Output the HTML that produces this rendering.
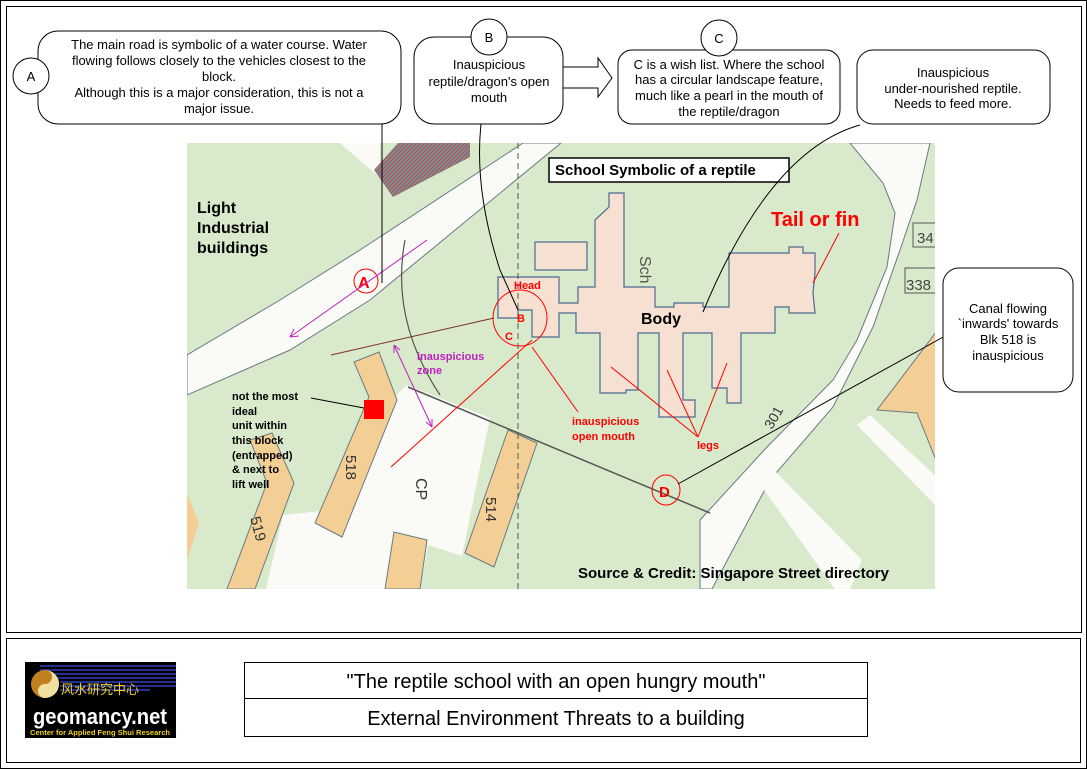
<!DOCTYPE html>
<html><head><meta charset="utf-8"><style>
html,body{margin:0;padding:0;background:#fff}
svg{display:block}
text{font-family:"Liberation Sans",Arial,sans-serif}
</style></head><body>
<svg width="1087" height="769" viewBox="0 0 1087 769" xmlns="http://www.w3.org/2000/svg">
<rect x="0.5" y="0.5" width="1086" height="768" fill="#fff" stroke="#000"/>
<rect x="6.5" y="6.5" width="1075" height="626" fill="none" stroke="#000"/>
<rect x="6.5" y="638.5" width="1074" height="124" fill="none" stroke="#000"/>

<defs><clipPath id="mc"><rect x="187" y="143" width="748" height="446"/></clipPath>
<pattern id="hatch" width="4" height="4" patternUnits="userSpaceOnUse"><rect width="4" height="4" fill="#7a8aa0"/><path d="M0 4L4 0" stroke="#c05030" stroke-width="1"/></pattern></defs>
<g clip-path="url(#mc)">
<rect x="187" y="143" width="748" height="446" fill="#d8eacb"/>
<polygon points="187,355 280,300 360,250 523,143 561,143 370,300 290,350 187,395" fill="#fafaf6" stroke="#6a7a80" stroke-width="1"/>
<polygon points="340,143 380,143 380,178" fill="#fafaf6"/>
<polygon points="374,170 398,143 470,143 470,157 393,197" fill="url(#hatch)"/>
<polygon points="850,143 883,183 895,213 887,267 857,340 833,380 767,447 700,520 700,589 712,589 770,480 833,407 873,327 900,250 917,200 930,143" fill="#fafaf6" stroke="#6a7a80" stroke-width="1"/>
<polygon points="857,425 870,415 940,480 940,510" fill="#fafaf6"/>
<polygon points="757,480 772,468 862,560 850,589 835,589" fill="#fafaf6"/>
<polygon points="877,410 940,327 940,470 917,413" fill="#f3cf96" stroke="#6a7a80"/>
<rect x="913" y="223" width="27" height="24" fill="#d8eacb" stroke="#555"/>
<rect x="905" y="268" width="35" height="25" fill="#d8eacb" stroke="#555"/>
<text x="917" y="243" font-size="15" fill="#444">34</text>
<text x="906" y="290" font-size="15" fill="#444">338</text>
<polygon points="407,385 490,418 462,556 428,545 420,589 266,589 283,515 330,510 370,420" fill="#fafaf6"/>
<polygon points="465,553 508,430 537,443 494,567" fill="#f3cf96" stroke="#6a7a80"/>
<polygon points="394,532 427,540 420,589 385,589" fill="#f3cf96" stroke="#6a7a80"/>
<polygon points="354,362 379,352 397,400 342,537 315,523 369,397" fill="#f3cf96" stroke="#6a7a80"/>
<polygon points="250,440 272,433 294,483 255,589 227,589 267,483" fill="#f3cf96" stroke="#6a7a80"/>
<polygon points="187,493 199,523 187,560" fill="#f3cf96"/>
<line x1="408" y1="387" x2="710" y2="513" stroke="#555" stroke-width="1.5"/>
<path d="M405,240 Q390,320 440,395" fill="none" stroke="#555" stroke-width="1.2"/>
<polygon points="498,277 559,277 559,303 578,303 578,287 595,287 595,220 609,207 609,193 624,193 624,287 655,287 655,307 674,307 674,303 703,303 703,307 729,307 729,253 789,253 789,247 803,247 803,253 815,253 815,273 813,293 815,313 789,313 789,307 775,307 775,333 741,333 741,403 727,403 727,388 712,388 712,333 683,333 683,400 695,400 695,417 659,417 659,333 638,333 638,390 626,390 626,393 600,393 600,333 576,333 576,313 559,313 559,337 532,337 532,310 518,310 518,318 498,318" fill="#f6e0d2" stroke="#4a6a90" stroke-width="1.2"/>
<rect x="535" y="242" width="52" height="28" fill="#f6e0d2" stroke="#4a6a90" stroke-width="1.2"/>
<line x1="518" y1="143" x2="518" y2="589" stroke="#555" stroke-dasharray="6,4"/>
<text transform="translate(346,455) rotate(90)" font-size="15" fill="#333">518</text>
<text transform="translate(416,478) rotate(90)" font-size="16" fill="#333">CP</text>
<text transform="translate(486,497) rotate(90)" font-size="15" fill="#333">514</text>
<text transform="translate(250,518) rotate(75)" font-size="15" fill="#333">519</text>
<text transform="translate(640,256) rotate(90)" font-size="16" fill="#555">Sch</text>
<text transform="translate(772,430) rotate(-60)" font-size="14" fill="#333">301</text>
</g>

<rect x="549" y="158" width="240" height="24" fill="#fff" stroke="#000" stroke-width="1.5"/>
<text x="555" y="175" font-size="15" font-weight="bold">School Symbolic of a reptile</text>
<text x="197" y="213" font-size="16" font-weight="bold">Light</text>
<text x="197" y="233" font-size="16" font-weight="bold">Industrial</text>
<text x="197" y="253" font-size="16" font-weight="bold">buildings</text>
<text x="771" y="226" font-size="20" font-weight="bold" fill="#f00">Tail or fin</text>
<text x="641" y="324" font-size="16" font-weight="bold">Body</text>
<text x="514" y="289" font-size="11" font-weight="bold" fill="#f00">Head</text>
<text x="517" y="322" font-size="11" font-weight="bold" fill="#f00">B</text>
<text x="505" y="340" font-size="11" font-weight="bold" fill="#f00">C</text>
<text x="417" y="360" font-size="11" font-weight="bold" fill="#c020c0">inauspicious</text>
<text x="417" y="374" font-size="11" font-weight="bold" fill="#c020c0">zone</text>
<text x="572" y="425" font-size="11" font-weight="bold" fill="#f00">inauspicious</text>
<text x="572" y="440" font-size="11" font-weight="bold" fill="#f00">open mouth</text>
<text x="697" y="449" font-size="11" font-weight="bold" fill="#f00">legs</text>
<g font-size="11" font-weight="bold">
<text x="232" y="400">not the most</text>
<text x="232" y="415">ideal</text>
<text x="232" y="429">unit within</text>
<text x="232" y="444">this block</text>
<text x="232" y="459">(entrapped)</text>
<text x="232" y="473">&amp; next to</text>
<text x="232" y="488">lift well</text>
</g>
<text x="578" y="578" font-size="15" font-weight="bold">Source &amp; Credit: Singapore Street directory</text>
<rect x="364" y="400" width="20" height="19" fill="#f00"/>
<line x1="311" y1="398" x2="364" y2="408" stroke="#000"/>

<g fill="none" stroke="#f00" stroke-width="1">
<ellipse cx="366" cy="281" rx="12" ry="12"/>
<ellipse cx="520" cy="318" rx="27" ry="28"/>
<ellipse cx="666" cy="490" rx="14" ry="15"/>
<line x1="532" y1="340" x2="391" y2="467"/>
<line x1="532" y1="347" x2="578" y2="412"/>
<line x1="698" y1="437" x2="611" y2="367"/>
<line x1="698" y1="437" x2="667" y2="370"/>
<line x1="698" y1="437" x2="727" y2="363"/>
<line x1="839" y1="233" x2="813" y2="283"/>
</g>
<text x="358" y="288" font-size="16" font-weight="bold" fill="#f00">A</text>
<text x="659" y="497" font-size="15" font-weight="bold" fill="#f00">D</text>
<line x1="494" y1="318" x2="331" y2="355" stroke="#803020"/>
<g stroke="#c020c0" fill="none">
<line x1="427" y1="240" x2="290" y2="337"/><path d="M290,337 l4,-8 M290,337 l9,-1"/>
<line x1="394" y1="345" x2="432" y2="427"/><path d="M394,345 l0,8 M394,345 l6,5 M432,427 l0,-8 M432,427 l-6,-5"/>
</g>

<g fill="none" stroke="#000" stroke-width="1">
<line x1="382" y1="124" x2="382" y2="283"/>
<path d="M481,124 Q474,190 500,270 L518,310"/>
<path d="M860,125 Q770,150 703,312"/>
<line x1="945" y1="336" x2="678" y2="484"/>
</g>

<g fill="#fff" stroke="#000" stroke-width="1">
<rect x="38" y="31" width="363" height="93" rx="20"/>
<circle cx="31" cy="76" r="18"/>
<rect x="414" y="37" width="149" height="87" rx="20"/>
<circle cx="489" cy="37" r="18"/>
<polygon points="563,67 598,67 598,58 612,78 598,97 598,88 563,88"/>
<rect x="618" y="50" width="222" height="74" rx="14"/>
<circle cx="719" cy="38" r="18"/>
<rect x="857" y="50" width="193" height="74" rx="16"/>
<rect x="943" y="268" width="130" height="124" rx="16"/>
</g>
<g font-size="13" text-anchor="middle">
<text x="31" y="81">A</text>
<text x="489" y="42">B</text>
<text x="719" y="43">C</text>
<text x="219" y="49">The main road is symbolic of a water course. Water</text>
<text x="219" y="65">flowing follows closely to the vehicles closest to the</text>
<text x="219" y="81">block.</text>
<text x="219" y="97">Although this is a major consideration, this is not a</text>
<text x="219" y="113">major issue.</text>
<text x="489" y="69">Inauspicious</text>
<text x="489" y="86">reptile/dragon's open</text>
<text x="489" y="102">mouth</text>
<text x="729" y="69">C is a wish list. Where the school</text>
<text x="729" y="84">has a circular landscape feature,</text>
<text x="729" y="100">much like a pearl in the mouth of</text>
<text x="729" y="116">the reptile/dragon</text>
<text x="953" y="77">Inauspicious</text>
<text x="953" y="93">under-nourished reptile.</text>
<text x="953" y="108">Needs to feed more.</text>
<text x="1008" y="313">Canal flowing</text>
<text x="1008" y="328">`inwards' towards</text>
<text x="1008" y="344">Blk 518 is</text>
<text x="1008" y="360">inauspicious</text>
</g>

<rect x="244.5" y="662.5" width="623" height="74" fill="#fff" stroke="#000"/>
<line x1="244" y1="698.5" x2="868" y2="698.5" stroke="#000"/>
<text x="556" y="688" font-size="20" text-anchor="middle">"The reptile school with an open hungry mouth"</text>
<text x="556" y="725" font-size="20" text-anchor="middle">External Environment Threats to a building</text>

<rect x="25" y="662" width="151" height="76" fill="#000"/>
<g stroke="#3040c0" stroke-width="1.5">
<line x1="40" y1="666" x2="176" y2="666"/><line x1="40" y1="670" x2="176" y2="670"/>
<line x1="40" y1="674" x2="176" y2="674"/><line x1="40" y1="678" x2="176" y2="678"/>
<line x1="60" y1="682" x2="176" y2="682"/><line x1="60" y1="686" x2="176" y2="686"/>
<line x1="60" y1="690" x2="150" y2="690"/>
</g>
<circle cx="45" cy="684" r="14" fill="#c08020"/>
<path d="M45,670 A14,14 0 0 1 45,698 A7,7 0 0 1 45,684 A7,7 0 0 0 45,670Z" fill="#f0e0a0"/>
<text x="100" y="694" font-size="13" fill="#f0d020" text-anchor="middle" font-family="'Noto Sans CJK SC',sans-serif">风水研究中心</text>
<text x="100" y="724" font-size="22" font-weight="bold" fill="#fff" text-anchor="middle" textLength="134" lengthAdjust="spacingAndGlyphs">geomancy.net</text>
<text x="100" y="735" font-size="7" font-weight="bold" fill="#f0d020" text-anchor="middle" textLength="140" lengthAdjust="spacingAndGlyphs">Center for Applied Feng Shui Research</text>
</svg>
</body></html>
